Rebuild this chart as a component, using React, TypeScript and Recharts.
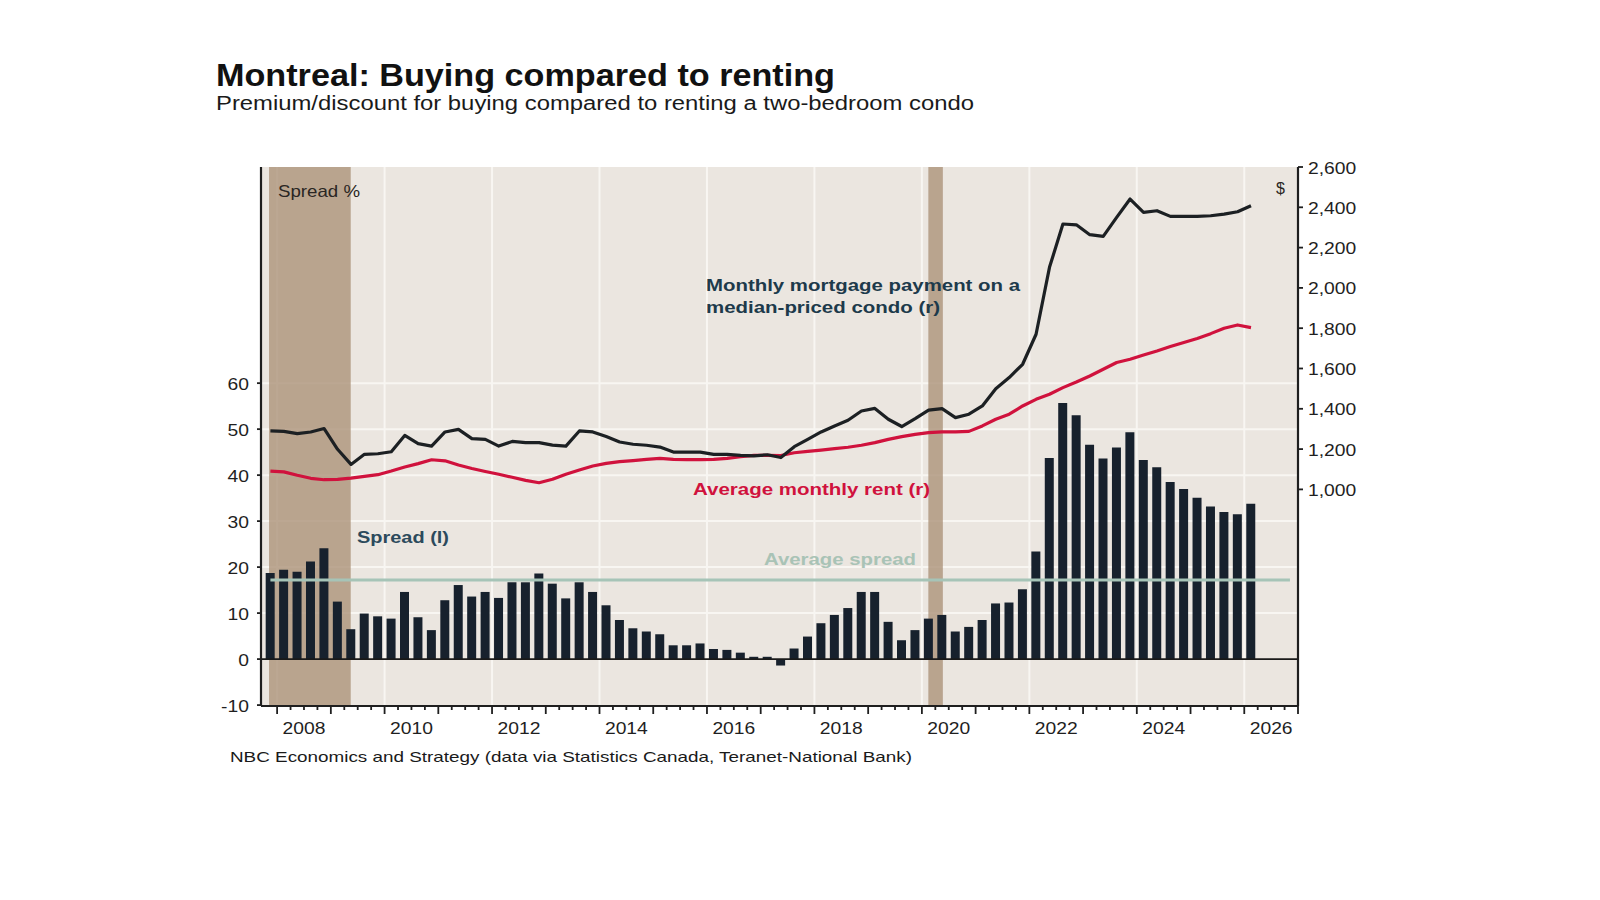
import {
  Bar,
  CartesianGrid,
  ComposedChart,
  Line,
  ReferenceArea,
  ReferenceLine,
  XAxis,
  YAxis,
} from "recharts";

// Quarterly series, 2007 Q4 through 2026 Q1
const FIRST_YEAR = 2007;
const FIRST_QUARTER = 4;

// Premium (+) / discount (-) of buying vs renting, %
const spread = [
  18.7, 19.4, 19.0, 21.2, 24.1, 12.5, 6.5, 9.9, 9.3, 8.8, 14.6, 9.1, 6.3, 12.8,
  16.1, 13.6, 14.6, 13.3, 16.7, 16.7, 18.6, 16.4, 13.2, 16.7, 14.6, 11.7, 8.5,
  6.7, 6.0, 5.4, 3.0, 3.0, 3.4, 2.2, 2.0, 1.4, 0.5, 0.5, -1.4, 2.3, 4.9, 7.8,
  9.6, 11.1, 14.6, 14.6, 8.1, 4.1, 6.3, 8.8, 9.6, 6.0, 7.0, 8.5, 12.1, 12.3,
  15.2, 23.4, 43.7, 55.7, 53.0, 46.6, 43.6, 46.0, 49.3, 43.3, 41.7, 38.5, 37.0,
  35.1, 33.2, 32.0, 31.5, 33.8,
];

// Monthly mortgage payment on a median-priced condo, $
const mortgage = [
  1290, 1288, 1277, 1285, 1302, 1199, 1124, 1174, 1177, 1187, 1268, 1227, 1215,
  1285, 1298, 1252, 1248, 1215, 1238, 1232, 1232, 1220, 1215, 1290, 1285, 1262,
  1235, 1224, 1219, 1210, 1185, 1185, 1185, 1174, 1174, 1169, 1166, 1172, 1158,
  1212, 1248, 1285, 1315, 1343, 1389, 1402, 1348, 1312, 1351, 1393, 1401, 1356,
  1373, 1414, 1500, 1555, 1621, 1770, 2102, 2317, 2313, 2264, 2256, 2350, 2441,
  2375, 2383, 2355, 2355, 2355, 2358, 2366, 2378, 2408,
];

// Average monthly rent, $
const rent = [
  1091, 1087, 1070, 1055, 1048, 1050, 1056, 1065, 1073, 1091, 1111, 1128, 1147,
  1142, 1121, 1104, 1089, 1075, 1060, 1045, 1033, 1050, 1075, 1096, 1116, 1129,
  1138, 1143, 1149, 1154, 1149, 1148, 1148, 1149, 1154, 1162, 1169, 1169, 1168,
  1182, 1189, 1195, 1202, 1209, 1219, 1232, 1248, 1262, 1273, 1282, 1285, 1285,
  1288, 1315, 1348, 1373, 1414, 1447, 1472, 1505, 1533, 1563, 1596, 1630, 1646,
  1667, 1687, 1709, 1729, 1749, 1773, 1800, 1816, 1803,
];

const AVERAGE_SPREAD = 17.2;

// Recession shading, in fractional years
const recessions = [
  { from: 2007.85, to: 2009.37 },
  { from: 2020.12, to: 2020.39 },
];

const leftTicks = [-10, 0, 10, 20, 30, 40, 50, 60];
const leftGrid = [10, 20, 30, 40, 50, 60];
const rightTicks = [1000, 1200, 1400, 1600, 1800, 2000, 2200, 2400, 2600];
const gridYears = [2008, 2010, 2012, 2014, 2016, 2018, 2020, 2022, 2024, 2026];
const labelYears = [2008, 2010, 2012, 2014, 2016, 2018, 2020, 2022, 2024, 2026];

const X_DOMAIN: [number, number] = [2007.7, 2027];

// every quarter boundary gets a tick mark, years get a longer one
const quarterTicks = Array.from({ length: 77 }, (_, i) => 2008 + i * 0.25);

const data = spread.map((value, i) => {
  const index = FIRST_QUARTER - 1 + i;
  const year = FIRST_YEAR + Math.floor(index / 4);
  const quarter = (index % 4) + 1;
  return {
    label: `${year} Q${quarter}`,
    t: year + (quarter - 0.5) / 4,
    spread: value,
    mortgage: mortgage[i],
    rent: rent[i],
  };
});

const FONT = "'Liberation Sans', Arial, Helvetica, sans-serif";
const INK = "#1f1f1f";
const WIDEN = 1.17;

function XTick({ x, y, payload }: any) {
  const v = payload.value as number;
  const year = Math.floor(v);
  const frac = v - year;
  const showLabel = frac === 0.5 && labelYears.includes(year);
  return (
    <g>
      <line
        x1={x}
        x2={x}
        y1={y}
        y2={y + (frac === 0 ? 8 : 4)}
        stroke={INK}
        strokeWidth={1.8}
      />
      {showLabel && (
        <text
          transform={`translate(${x},${y + 28}) scale(${WIDEN},1)`}
          textAnchor="middle"
          fontFamily={FONT}
          fontSize={16.5}
          fill={INK}
        >
          {year}
        </text>
      )}
    </g>
  );
}

function LeftTick({ x, y, payload }: any) {
  return (
    <text
      transform={`translate(${x},${y + 6.5}) scale(${WIDEN},1)`}
      textAnchor="end"
      fontFamily={FONT}
      fontSize={16.5}
      fill={INK}
    >
      {payload.value}
    </text>
  );
}

function RightTick({ x, y, payload }: any) {
  return (
    <text
      transform={`translate(${x},${y + 6.5}) scale(${WIDEN},1)`}
      textAnchor="start"
      fontFamily={FONT}
      fontSize={16.5}
      fill={INK}
    >
      {Number(payload.value).toLocaleString("en-US")}
    </text>
  );
}

function Labels() {
  return (
    <svg
      width={1600}
      height={900}
      style={{ position: "absolute", left: 0, top: 0, pointerEvents: "none" }}
      fontFamily={FONT}
    >
      <text
        x={216}
        y={86}
        fontSize={32}
        fontWeight="bold"
        fill="#111"
        textLength={619}
        lengthAdjust="spacingAndGlyphs"
      >
        Montreal: Buying compared to renting
      </text>
      <text
        x={216}
        y={110}
        fontSize={20}
        fill="#1a1a1a"
        textLength={758}
        lengthAdjust="spacingAndGlyphs"
      >
        Premium/discount for buying compared to renting a two-bedroom condo
      </text>

      <text x={278} y={197} fontSize={16.5} fill="#2a2623" textLength={82} lengthAdjust="spacingAndGlyphs">
        Spread %
      </text>
      <text x={1276} y={194} fontSize={16} fill="#2a2623">
        $
      </text>

      <g fontWeight="bold" fontSize={16.5}>
        <text x={706} y={291} fill="#1d3a4b" textLength={314} lengthAdjust="spacingAndGlyphs">
          Monthly mortgage payment on a
        </text>
        <text x={706} y={313} fill="#1d3a4b" textLength={234} lengthAdjust="spacingAndGlyphs">
          median-priced condo (r)
        </text>
        <text x={693} y={495} fill="#d0123d" textLength={237} lengthAdjust="spacingAndGlyphs">
          Average monthly rent (r)
        </text>
        <text x={357} y={543} fill="#2c4a5c" textLength={92} lengthAdjust="spacingAndGlyphs">
          Spread (l)
        </text>
        <text x={764} y={565} fill="#a9c3b6" textLength={152} lengthAdjust="spacingAndGlyphs">
          Average spread
        </text>
      </g>

      <text
        x={230}
        y={762}
        fontSize={14.5}
        fill="#1a1a1a"
        textLength={682}
        lengthAdjust="spacingAndGlyphs"
      >
        NBC Economics and Strategy (data via Statistics Canada, Teranet-National Bank)
      </text>
    </svg>
  );
}

export default function App() {
  return (
    <div
      style={{
        position: "absolute",
        left: 0,
        top: 0,
        width: 1600,
        height: 900,
        background: "#ffffff",
      }}
    >
      <ComposedChart
        width={1600}
        height={900}
        data={data}
        margin={{ top: 167, right: 222, bottom: 154, left: 221 }}
      >
        <CartesianGrid
          yAxisId="l"
          fill="#ebe6e0"
          stroke="#f8f6f2"
          strokeWidth={2}
          horizontalValues={leftGrid}
          verticalValues={gridYears}
        />
        {recessions.map((r) => (
          <ReferenceArea
            key={r.from}
            yAxisId="l"
            x1={r.from}
            x2={r.to}
            fill="#ab9177"
            fillOpacity={0.78}
            stroke="none"
          />
        ))}
        <XAxis
          dataKey="t"
          type="number"
          domain={X_DOMAIN}
          allowDataOverflow
          ticks={quarterTicks}
          interval={0}
          tick={<XTick />}
          tickLine={false}
          tickSize={0}
          tickMargin={0}
          height={40}
          axisLine={{ stroke: INK, strokeWidth: 2.2 }}
        />
        <YAxis
          yAxisId="l"
          orientation="left"
          width={40}
          domain={[-10.2, 107]}
          allowDataOverflow
          ticks={leftTicks}
          interval={0}
          tick={<LeftTick />}
          tickSize={4}
          tickMargin={8}
          tickLine={{ stroke: INK, strokeWidth: 1.8 }}
          axisLine={{ stroke: INK, strokeWidth: 2.2 }}
        />
        <YAxis
          yAxisId="r"
          orientation="right"
          width={80}
          domain={[-75, 2600]}
          allowDataOverflow
          ticks={rightTicks}
          interval={0}
          tick={<RightTick />}
          tickSize={5}
          tickMargin={5}
          tickLine={{ stroke: INK, strokeWidth: 1.8 }}
          axisLine={{ stroke: INK, strokeWidth: 2.2 }}
        />
        <ReferenceLine yAxisId="l" y={0} stroke="#1a1a1a" strokeWidth={1.6} />
        <Bar
          yAxisId="l"
          dataKey="spread"
          fill="#17212d"
          barSize={9}
          isAnimationActive={false}
        />
        <ReferenceLine
          yAxisId="l"
          segment={[
            { x: 2007.875, y: AVERAGE_SPREAD },
            { x: 2026.85, y: AVERAGE_SPREAD },
          ]}
          stroke="#a6c4b7"
          strokeWidth={3}
        />
        <Line
          yAxisId="r"
          dataKey="rent"
          type="linear"
          stroke="#d0123d"
          strokeWidth={3.2}
          dot={false}
          strokeLinejoin="round"
          isAnimationActive={false}
        />
        <Line
          yAxisId="r"
          dataKey="mortgage"
          type="linear"
          stroke="#1c2023"
          strokeWidth={3.2}
          dot={false}
          strokeLinejoin="round"
          isAnimationActive={false}
        />
      </ComposedChart>
      <Labels />
    </div>
  );
}
